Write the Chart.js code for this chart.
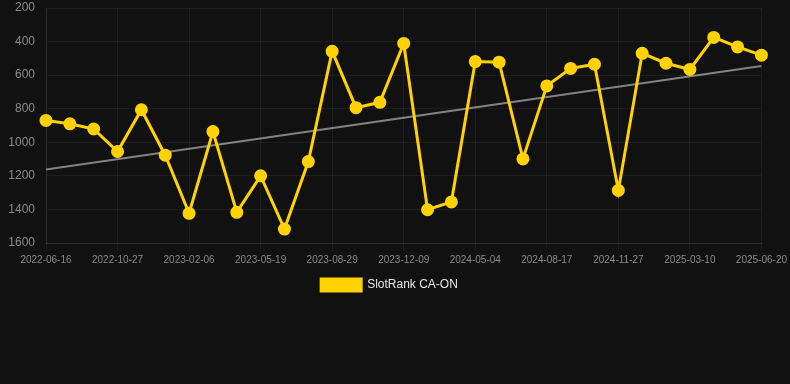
<!DOCTYPE html>
<html>
<head>
<meta charset="utf-8">
<script src="https://cdn.jsdelivr.net/npm/chart.js@4/dist/chart.umd.min.js"></script>
<style>
  html, body { margin: 0; padding: 0; background: #111111; }
  #wrap { width: 790px; height: 384px; position: relative; }
</style>
</head>
<body>
<div id="wrap"><canvas id="c"></canvas></div>
<script>
const dates = [
  "2022-06-16","2022-07-30","2022-09-12","2022-10-27","2022-11-30","2023-01-03",
  "2023-02-06","2023-03-10","2023-04-14","2023-05-19","2023-06-25","2023-07-24",
  "2023-08-29","2023-10-05","2023-11-08","2023-12-09","2024-01-25","2024-03-18",
  "2024-05-04","2024-06-08","2024-07-12","2024-08-17","2024-09-20","2024-10-24",
  "2024-11-27","2024-12-31","2025-02-03","2025-03-10","2025-04-14","2025-05-17",
  "2025-06-20"
];
const rankValues = [
  870, 890, 921, 1055, 806, 1077, 1423, 936, 1417, 1200, 1517, 1115,
  458, 794, 762, 411, 1402, 1355, 519, 523, 1099, 664, 560, 535,
  1287, 470, 529, 566, 375, 432, 481
];
const trendStart = 1162;
const trendEnd = 546;
const yTicks = [200, 400, 600, 800, 1000, 1200, 1400, 1600];

const trendData = dates.map((d, i) => i === 0 ? trendStart : (i === dates.length - 1 ? trendEnd : null));

new Chart(document.getElementById('c'), {
  type: 'line',
  data: {
    labels: dates,
    datasets: [
      {
        label: 'SlotRank CA-ON',
        data: rankValues,
        borderColor: '#ffd200',
        backgroundColor: '#ffd200',
        borderWidth: 3,
        pointRadius: 5,
        pointHoverRadius: 5,
        pointBackgroundColor: '#ffd200',
        pointBorderColor: '#ffd200',
        tension: 0
      },
      {
        label: 'trend',
        data: trendData,
        borderColor: 'rgba(160,160,160,0.8)',
        borderWidth: 2,
        pointRadius: 0,
        spanGaps: true,
        fill: false
      }
    ]
  },
  options: {
    responsive: true,
    maintainAspectRatio: false,
    animation: false,
    layout: { padding: { left: 0, right: 11, top: 0, bottom: 83 } },
    plugins: {
      legend: {
        position: 'bottom',
        labels: {
          color: '#e6e6e6',
          font: { family: 'Liberation Sans, Arial, sans-serif', size: 12 },
          boxWidth: 40,
          boxHeight: 12,
          filter: (item) => item.datasetIndex === 0
        }
      },
      tooltip: { enabled: false }
    },
    scales: {
      x: {
        grid: { color: 'rgba(255,255,255,0.05)', drawTicks: true, tickLength: 8 },
        border: { color: 'rgba(255,255,255,0.08)' },
        ticks: {
          color: '#8a8a8a',
          font: { family: 'Liberation Sans, Arial, sans-serif', size: 10 },
          maxRotation: 0,
          autoSkip: true,
          maxTicksLimit: 11
        }
      },
      y: {
        reverse: true,
        min: yTicks[0],
        max: yTicks[yTicks.length - 1],
        grid: { color: 'rgba(255,255,255,0.05)', tickColor: 'rgba(0,0,0,0)' },
        border: { color: 'rgba(255,255,255,0.08)' },
        afterBuildTicks: (axis) => { axis.ticks = yTicks.map(v => ({ value: v })); },
        afterFit: (axis) => { axis.width = 46; axis.paddingTop = 3; },
        ticks: {
          color: '#8a8a8a',
          font: { family: 'Liberation Sans, Arial, sans-serif', size: 12, lineHeight: 1 },
          callback: (v) => String(v)
        }
      }
    }
  }
});
</script>
</body>
</html>
